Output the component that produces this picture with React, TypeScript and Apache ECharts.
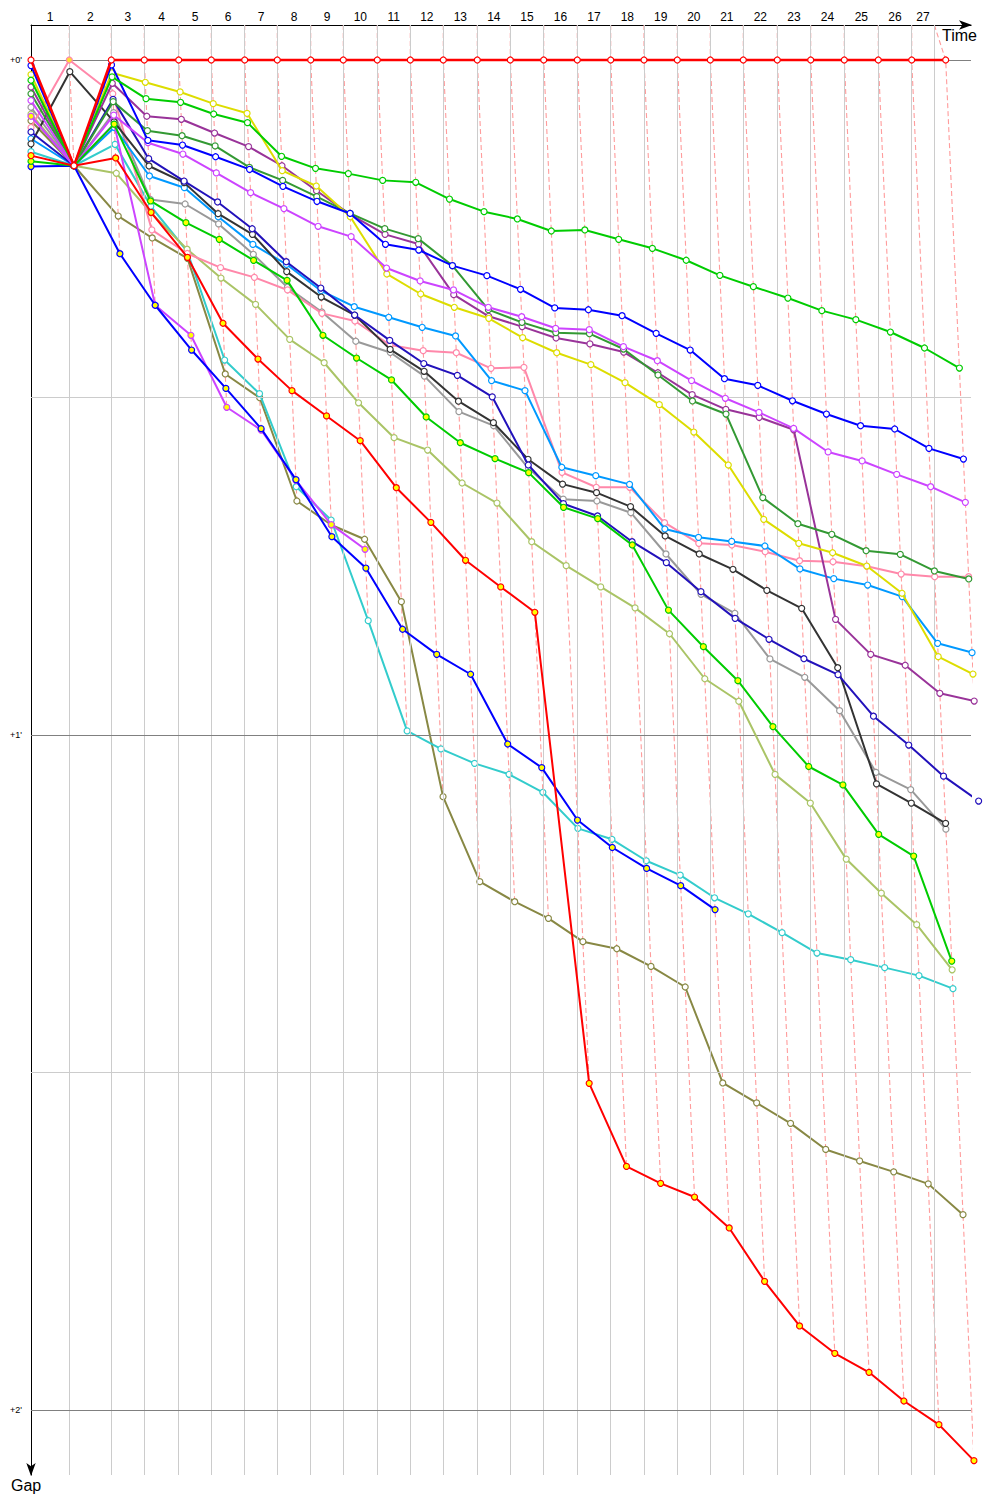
import React, { useEffect, useRef } from 'react';
import * as echarts from 'echarts';

// Leader's race time (s) at the end of each lap (index = lap, 0 = start)
const lapTimes = [0, 76.6, 160.6, 226.6, 295.4, 360.6, 427.4, 492.6, 559.4, 624.6, 692.6, 758.6, 824.6, 892.6, 958.6, 1025.4, 1092.6, 1159.4, 1226, 1292.6, 1358.6, 1424.6, 1492.6, 1559.4, 1626.6, 1694.6, 1761.4, 1829.4];
// Vertical grid ticks (time, s) closing each lap column
const gridTicks = [76.6, 160.6, 226.6, 295.4, 360.6, 427.4, 492.6, 559.4, 624.6, 692.6, 758.6, 824.6, 892.6, 958.6, 1025.4, 1092.6, 1159.4, 1226, 1292.6, 1358.6, 1424.6, 1492.6, 1559.4, 1626.6, 1694.6, 1761.4, 1806.6];
const gapTicks = [0, 60, 120];
const gapGridMinor = [30, 90];

// Gaps to the leader (seconds) per lap, index 0 = start
const gapRedLeader = [0, 9.4, 0, 0, 0, 0, 0, 0, 0, 0, 0, 0, 0, 0, 0, 0, 0, 0, 0, 0, 0, 0, 0, 0, 0, 0, 0, 0];
const gapGreen = [1.8, 9.4, 1.5, 3.44, 3.76, 4.8, 5.57, 8.56, 9.63, 10.1, 10.7, 10.87, 12.36, 13.48, 14.13, 15.2, 15.11, 15.94, 16.74, 17.8, 19.14, 20.15, 21.16, 22.28, 23.08, 24.18, 25.6, 27.38];
const gapYellow = [1.3, 9.4, 1.13, 1.98, 2.84, 3.88, 4.74, 9.84, 11.2, 13.93, 19.02, 20.8, 21.98, 22.96, 24.68, 26.02, 27.08, 28.68, 30.64, 33.07, 36.0, 40.83, 42.96, 43.8, 44.98, 47.4, 53.04, 54.58];
const gapPurple = [2.4, 9.4, 2.07, 5.0, 5.27, 6.49, 7.7, 9.4, 11.62, 13.72, 15.5, 16.36, 20.86, 22.78, 23.7, 24.71, 25.24, 25.96, 27.8, 29.75, 31.05, 31.76, 32.87, 49.72, 52.83, 53.8, 56.29, 56.98];
const gapDarkGreen = [3.0, 9.4, 3.7, 6.28, 6.73, 7.64, 9.54, 10.7, 12.15, 13.63, 14.99, 15.88, 18.28, 22.19, 23.32, 24.24, 24.33, 25.69, 28.0, 30.31, 31.47, 38.9, 41.22, 42.16, 43.62, 43.94, 45.42, 46.13];
const gapBlue = [0.5, 9.4, 0.44, 7.14, 7.56, 8.6, 9.72, 11.23, 12.56, 13.64, 16.38, 16.89, 18.28, 19.17, 20.38, 22.04, 22.2, 22.73, 24.3, 25.78, 28.33, 28.92, 30.29, 31.47, 32.51, 32.8, 34.52, 35.47];
const gapViolet = [3.6, 9.4, 4.9, 7.35, 8.36, 10.04, 11.79, 13.21, 14.78, 15.7, 18.49, 19.64, 20.44, 21.98, 22.82, 23.85, 23.97, 25.48, 26.73, 28.5, 30.07, 31.32, 32.74, 34.84, 35.64, 36.83, 37.93, 39.32];
const gapPink = [6.0, 0, 3.0, 15.1, 17.2, 18.46, 19.32, 20.44, 22.52, 23.2, 25.33, 25.84, 26.02, 27.41, 27.32, 36.65, 37.98, 37.98, 41.13, 42.96, 43.11, 43.71, 44.51, 44.6, 45.0, 45.69, 45.93, 45.93];
const gapGray = [4.2, 9.4, 4.68, 12.4, 12.8, 14.57, 17.27, 20.2, 22.4, 25.0, 26.0, 28.1, 31.26, 32.5, 36.3, 39.04, 39.2, 40.24, 43.91, 47.49, 49.18, 53.24, 54.87, 57.84, 63.32, 64.85, 68.37];
const gapSkyBlue = [7.0, 9.4, 6.0, 10.31, 11.35, 13.93, 16.39, 18.16, 20.51, 21.93, 22.87, 23.76, 24.53, 28.5, 29.39, 36.2, 36.95, 37.72, 41.69, 42.43, 42.79, 43.2, 45.24, 46.1, 46.67, 47.7, 51.85, 52.68];
const gapNavy = [6.4, 9.4, 3.5, 8.77, 10.76, 12.62, 15.0, 17.93, 20.27, 22.67, 24.92, 26.98, 28.03, 29.94, 36.0, 39.44, 40.53, 42.82, 44.68, 47.26, 49.63, 51.49, 53.22, 54.64, 58.33, 60.89, 63.66, 65.87];
const gapBlack = [7.45, 1.04, 5.5, 9.42, 10.9, 13.66, 15.5, 18.81, 21.07, 22.67, 25.72, 27.67, 30.33, 32.24, 35.49, 37.7, 38.46, 39.7, 42.31, 43.91, 45.27, 47.14, 48.74, 54.02, 64.34, 66.05, 67.85];
const gapGreen2 = [9.0, 9.4, 5.7, 12.53, 14.46, 15.94, 17.81, 19.59, 24.47, 26.49, 28.44, 31.73, 34.02, 35.44, 36.68, 39.76, 40.77, 43.11, 48.9, 52.15, 55.17, 59.25, 62.8, 64.44, 68.83, 70.76, 80.1];
const gapLightOlive = [4.8, 9.4, 10.07, 13.6, 16.82, 19.38, 21.72, 24.83, 26.91, 30.47, 33.57, 34.67, 37.6, 39.38, 42.82, 44.95, 46.84, 48.7, 51.0, 55.0, 57.0, 63.5, 66.05, 71.03, 74.06, 76.86, 80.87];
const gapRed2 = [8.5, 9.4, 8.71, 13.54, 17.54, 23.4, 26.58, 29.39, 31.64, 33.84, 38.02, 41.1, 44.47, 46.84, 49.09, 90.96, 98.34, 99.85, 101.07, 103.82, 108.56, 112.53, 114.96, 116.65, 119.2, 121.3, 124.5];
const gapCyan = [8.15, 9.4, 7.5, 13.0, 17.0, 26.67, 29.66, 37.93, 40.89, 49.84, 59.64, 61.24, 62.52, 63.49, 65.09, 68.3, 69.27, 71.18, 72.45, 74.47, 75.9, 77.57, 79.38, 79.97, 80.68, 81.39, 82.55];
const gapOlive = [5.4, 9.4, 13.87, 15.82, 17.63, 27.91, 30.02, 39.2, 41.33, 42.6, 48.15, 65.48, 73.04, 74.82, 76.3, 78.37, 79.0, 80.57, 82.4, 90.93, 92.7, 94.52, 96.84, 97.86, 98.83, 99.9, 102.64];
const gapBlue2 = [9.47, 9.4, 17.22, 21.8, 25.78, 29.19, 32.77, 37.3, 42.37, 45.16, 50.6, 52.83, 54.6, 60.8, 62.9, 67.56, 70.0, 71.86, 73.39, 75.52];
const gapViolet2 = [5.0, 9.4, 5.69, 21.8, 24.47, 30.87, 32.89, 37.36, 41.3, 43.49];

const drivers = [
  { name: 'Olive', color: '#888844', fill: '#ffffff', gaps: gapOlive },
  { name: 'Cyan', color: '#33cccc', fill: '#ffffff', gaps: gapCyan },
  { name: 'Light olive', color: '#aac466', fill: '#ffffff', gaps: gapLightOlive },
  { name: 'Gray', color: '#999999', fill: '#ffffff', gaps: gapGray },
  { name: 'Pink', color: '#ff88aa', fill: '#ffffff', gaps: gapPink, leadFill: '#ffdd33' },
  { name: 'Sky blue', color: '#0099ff', fill: '#ffffff', gaps: gapSkyBlue },
  { name: 'Black', color: '#333333', fill: '#ffffff', gaps: gapBlack },
  { name: 'Navy', color: '#2211bb', fill: '#ffffff', gaps: gapNavy },
  { name: 'Purple', color: '#993399', fill: '#ffffff', gaps: gapPurple },
  { name: 'Dark green', color: '#339933', fill: '#ffffff', gaps: gapDarkGreen },
  { name: 'Yellow', color: '#dddd00', fill: '#ffffff', gaps: gapYellow },
  { name: 'Violet', color: '#cc44ff', fill: '#ffffff', gaps: gapViolet },
  { name: 'Blue', color: '#0000ff', fill: '#ffffff', gaps: gapBlue },
  { name: 'Green', color: '#00cc00', fill: '#ffffff', gaps: gapGreen },
  { name: 'Violet 2', color: '#cc44ff', fill: '#ffff00', gaps: gapViolet2 },
  { name: 'Blue 2', color: '#0000ff', fill: '#ffff00', gaps: gapBlue2 },
  { name: 'Green 2', color: '#00cc00', fill: '#ffff00', gaps: gapGreen2 },
  { name: 'Red 2', color: '#ff0000', fill: '#ffff00', gaps: gapRed2 },
  { name: 'Red', color: '#ff0000', fill: '#ffffff', gaps: gapRedLeader },
];

const Y_MIN = -35 / 11.25;
const Y_MAX = 1415 / 11.25;
const X_MAX = 1880;

const pointX = (lap: number, gap: number) => (lap === 0 ? 0 : lapTimes[lap] + gap);

const labelMids = gridTicks.map((t, i) => ((i === 0 ? 0 : gridTicks[i - 1]) + t) / 2);

export default function App() {
  const ref = useRef<HTMLDivElement>(null);
  useEffect(() => {
    if (!ref.current) return;
    const chart = echarts.init(ref.current, null, { renderer: 'svg' });

    const lapLines: any[] = [];
    for (let k = 1; k < lapTimes.length; k++) {
      const pts: number[][] = [];
      drivers.forEach((d) => {
        if (d.gaps[k] !== undefined) pts.push([pointX(k, d.gaps[k]), d.gaps[k]]);
      });
      pts.sort((a, b) => a[1] - b[1]);
      lapLines.push({
        type: 'line',
        data: [[gridTicks[k - 1], Y_MIN], ...pts],
        symbol: 'none',
        silent: true,
        clip: false,
        z: 2,
        lineStyle: { color: '#ff9c9c', width: 1.1, type: [5, 3], opacity: 1 },
      });
    }

    const driverLines = drivers.map((d, i) => ({
      type: 'line',
      name: d.name,
      data: d.gaps.map((g, lap) =>
        d.leadFill && g === 0 && lap > 0
          ? { value: [pointX(lap, g), g], itemStyle: { color: d.leadFill } }
          : [pointX(lap, g), g]
      ),
      symbol: 'circle',
      symbolSize: 6,
      showSymbol: true,
      showAllSymbol: true,
      clip: false,
      silent: true,
      z: 3 + i,
      lineStyle: { color: d.color, width: d.name === 'Red' ? 2.5 : 2 },
      itemStyle: { color: d.fill, borderColor: d.color, borderWidth: 1.2 },
    }));

    const gridSeries = {
      type: 'line',
      data: [[0, 0]],
      symbol: 'none',
      silent: true,
      z: 1,
      lineStyle: { opacity: 0 },
      markLine: {
        silent: true,
        symbol: ['none', 'none'],
        animation: false,
        label: { show: false },
        data: [
          ...gridTicks.map((t) => ({ xAxis: t, lineStyle: { color: '#cccccc', width: 1, type: 'solid' } })),
          ...gapGridMinor.map((v) => ({ yAxis: v, lineStyle: { color: '#cccccc', width: 1, type: 'solid' } })),
          ...gapTicks.map((v) => ({ yAxis: v, lineStyle: { color: '#808080', width: 1, type: 'solid' } })),
        ],
      },
    };

    chart.setOption({
      animation: false,
      backgroundColor: '#ffffff',
      grid: { left: 31, top: 25, width: 940, height: 1450, containLabel: false },
      xAxis: {
        type: 'value',
        position: 'top',
        min: 0,
        max: X_MAX,
        axisLine: {
          show: true,
          onZero: false,
          lineStyle: { color: '#000000', width: 1 },
          symbol: ['none', 'arrow'],
          symbolSize: [7, 13],
          symbolOffset: [0, 1],
        },
        axisTick: { show: false },
        splitLine: { show: false },
        axisLabel: {
          customValues: labelMids,
          formatter: (v: number) => {
            let best = 0;
            labelMids.forEach((m, i) => {
              if (Math.abs(m - v) < Math.abs(labelMids[best] - v)) best = i;
            });
            return String(best + 1);
          },
          fontSize: 12,
          color: '#000000',
          margin: 2,
          fontFamily: 'Liberation Sans',
        },
      },
      yAxis: {
        type: 'value',
        inverse: true,
        min: Y_MIN,
        max: Y_MAX,
        axisLine: {
          show: true,
          onZero: false,
          lineStyle: { color: '#000000', width: 1 },
          symbol: ['arrow', 'none'],
          symbolSize: [7, 13],
          symbolOffset: [-1, 0],
        },
        axisTick: { show: false },
        splitLine: { show: false },
        axisLabel: {
          customValues: gapTicks,
          formatter: (v: number) => `+${Math.round(v / 60)}'`,
          fontSize: 9,
          color: '#000000',
          margin: 9,
          fontFamily: 'Liberation Sans',
        },
      },
      graphic: [
        { type: 'text', left: 942, top: 27, style: { text: 'Time', fontSize: 16, fill: '#000000', fontFamily: 'Liberation Sans' } },
        { type: 'text', left: 11, top: 1477, style: { text: 'Gap', fontSize: 16, fill: '#000000', fontFamily: 'Liberation Sans' } },
      ],
      series: [gridSeries, ...lapLines, ...driverLines],
    });
    return () => chart.dispose();
  }, []);
  return <div ref={ref} style={{ position: 'absolute', left: 0, top: 0, width: 1000, height: 1500 }} />;
}
